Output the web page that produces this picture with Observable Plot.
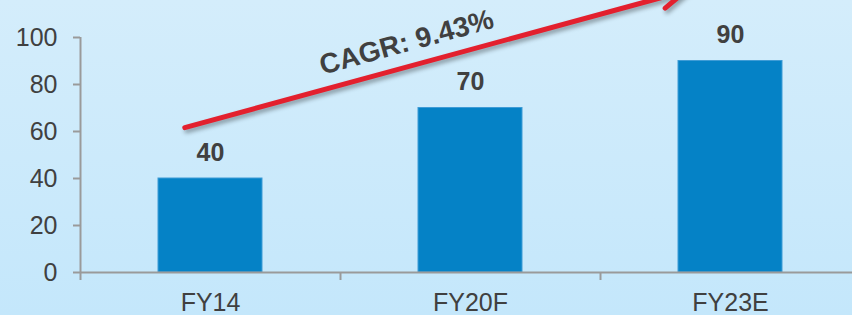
<!DOCTYPE html>
<html>
<head>
<meta charset="utf-8">
<script src="https://cdn.jsdelivr.net/npm/d3@7"></script>
<script src="https://cdn.jsdelivr.net/npm/@observablehq/plot@0.6"></script>
<style>
  html, body { margin: 0; padding: 0; }
  body { width: 852px; height: 315px; overflow: hidden;
         background: linear-gradient(to bottom, #d4edfb 0%, #c4e7fb 100%); }
  #chart svg { display: block; }
</style>
</head>
<body>
<div id="chart"></div>
<script>
const categories = ["FY14", "FY20F", "FY23E"];
const values = [40, 70, 90];
const yTicks = [0, 20, 40, 60, 80, 100];
const cagrLabel = ["CAGR: 9.43%"];
// growth arrow endpoints (category, value)
const arrowFrom = ["FY14", 59.4];
const arrowTo = ["FY23E", 119.8];

const data = categories.map((c, i) => ({cat: c, value: values[i]}));
const arrowData = [{x1: arrowFrom[0], y1: arrowFrom[1], x2: arrowTo[0], y2: arrowTo[1]}];

const W = 852, H = 315, mL = 80, mR = -8, mT = 37, mB = 43;
const pIn = 0.6, pOut = 0.3;
const step = (W - mL - mR) / (categories.length - pIn + 2 * pOut);
const half = step / 2;

const axisGray = "#9a9a9a";
const textGray = "#404040";

const plot = Plot.plot({
  width: W, height: H,
  marginLeft: mL, marginRight: mR, marginTop: mT, marginBottom: mB,
  style: {background: "transparent", fontFamily: "'Liberation Sans', Arial, sans-serif", color: textGray},
  x: {domain: categories, paddingInner: pIn, paddingOuter: pOut, axis: null},
  y: {domain: [0, 100], axis: null},
  marks: [
    Plot.barY(data, {x: "cat", y: "value", fill: "#0582c6", stroke: "#3f9cd6", strokeWidth: 1}),
    Plot.ruleY([0], {stroke: axisGray, strokeWidth: 2}),
    Plot.ruleX([categories[0]], {dx: -half, y1: 0, y2: 100, stroke: axisGray, strokeWidth: 2}),
    Plot.axisX({tickSize: 8, dx: -half, tickFormat: () => "", stroke: axisGray, strokeWidth: 2}),
    Plot.axisX({tickSize: 0, tickPadding: 21, fontSize: 25, fill: textGray}),
    Plot.axisY({ticks: yTicks, tickSize: 7, tickPadding: 16, fontSize: 25, stroke: axisGray, strokeWidth: 2, fill: textGray, tickFormat: d => d}),
    Plot.text(data, {x: "cat", y: "value", text: d => String(d.value), dy: -26, fontSize: 25, fontWeight: "bold", fill: textGray}),
    Plot.arrow(arrowData, {x1: "x1", y1: "y1", x2: "x2", y2: "y2", dx: -45, insetStart: 20, stroke: "#e3202e", strokeWidth: 5, headAngle: 50, strokeLinecap: "round"}),
    Plot.text(cagrLabel, {x: () => categories[1], y: () => 100, text: d => d, dx: -64, dy: 5, rotate: -15.3, fontSize: 28, fontWeight: "bold", fill: textGray})
  ]
});
d3.select(plot).selectAll("g[aria-label='arrow']").style("filter", "drop-shadow(2px 3px 2px rgba(0,0,0,0.35))");
document.getElementById("chart").appendChild(plot);
</script>
</body>
</html>
